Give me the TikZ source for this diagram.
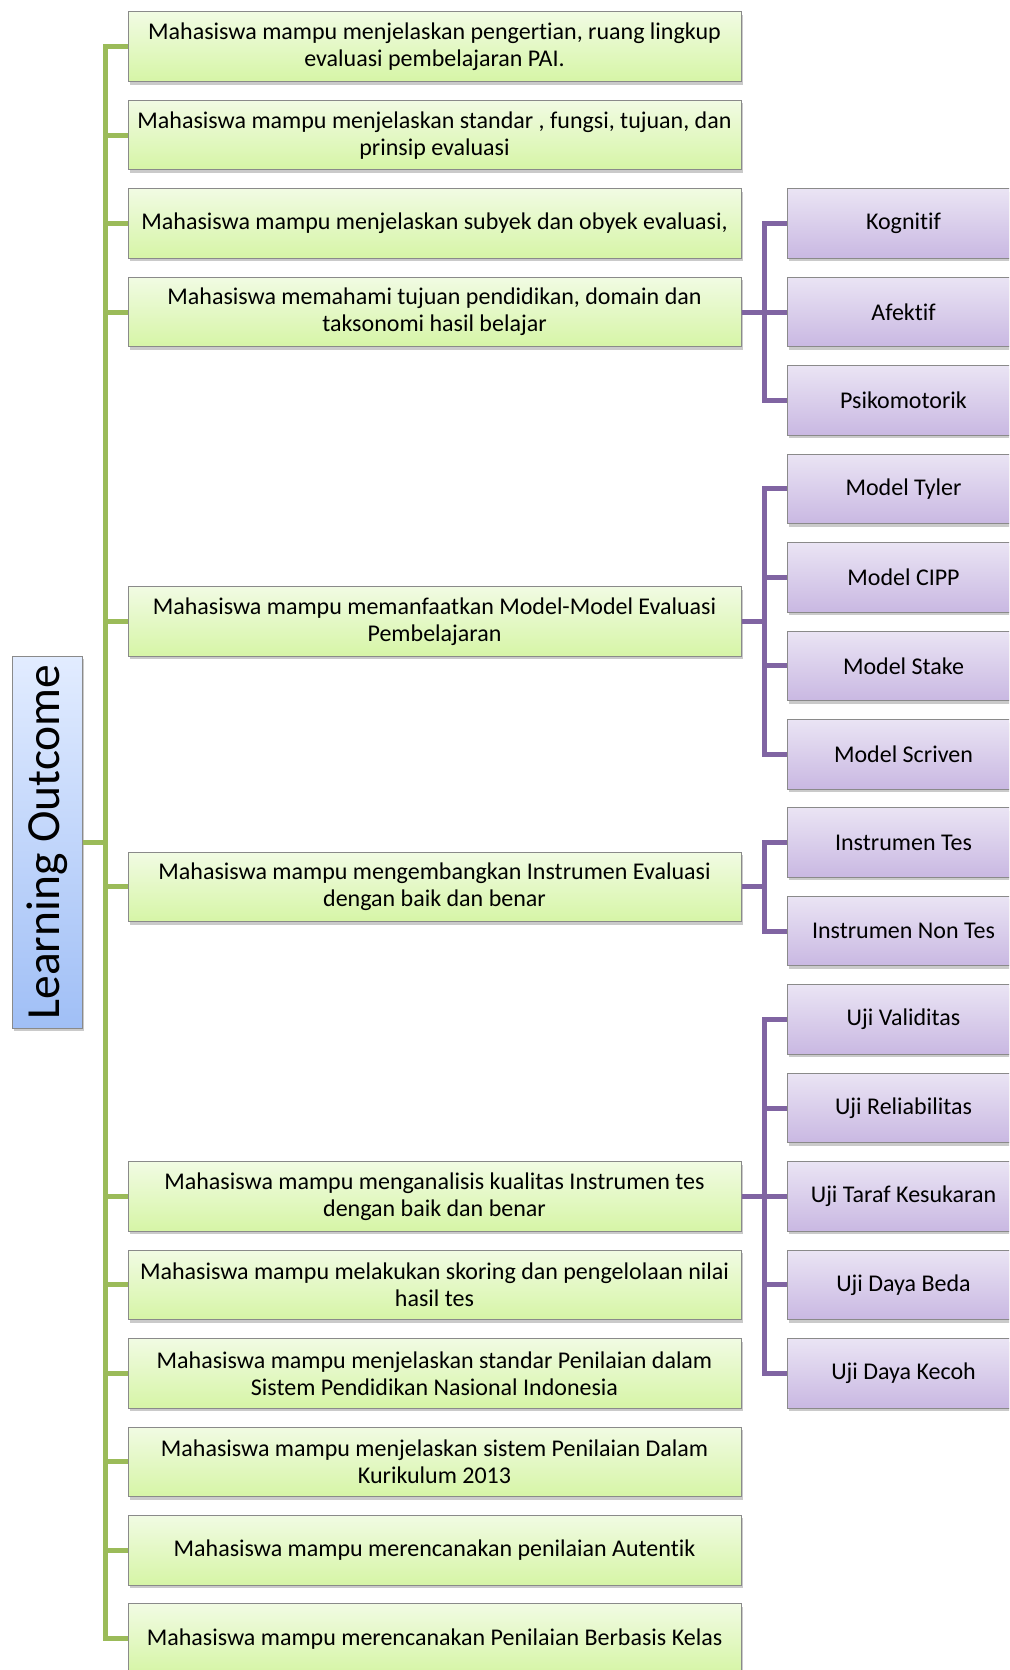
\documentclass[tikz,border=0pt]{standalone}
\usepackage{fontspec}
\setmainfont{Carlito}[Ligatures={NoCommon}]
\usetikzlibrary{shadows}
\definecolor{gLine}{HTML}{9BBB59}
\definecolor{pLine}{HTML}{8064A2}
\definecolor{gTop}{HTML}{F1FBE3}
\definecolor{gBot}{HTML}{D6F5A6}
\definecolor{pTop}{HTML}{EAE4F4}
\definecolor{pBot}{HTML}{C9B8E2}
\definecolor{bTop}{HTML}{E2ECFF}
\definecolor{bBot}{HTML}{A0BFF6}
\definecolor{boxBorder}{HTML}{8A8A8A}
\tikzset{
  basebox/.style={draw=boxBorder, line width=1pt, anchor=center,
    drop shadow={shadow xshift=2pt, shadow yshift=-3pt, opacity=0.35, fill=black!60},
    font=\fontsize{24}{27}\selectfont, align=center, inner sep=0pt},
  greenbox/.style={basebox, top color=gTop, bottom color=gBot,
    minimum width=613pt, minimum height=69.5pt},
  purplebox/.style={basebox, top color=pTop, bottom color=pBot,
    minimum width=233pt, minimum height=69.5pt},
  bluebox/.style={basebox, top color=bTop, bottom color=bBot,
    minimum width=70pt, minimum height=372pt},
  gline/.style={draw=gLine, line width=5pt, line join=miter},
  pline/.style={draw=pLine, line width=5pt, line join=miter},
}
\newcommand{\rowy}[1]{46.75+88.44*#1}
\begin{document}
\begin{tikzpicture}[x=1pt,y=-1pt]
\useasboundingbox (0,0) rectangle (1009,1670);
\clip (0,0) rectangle (1009,1670);
% coordinates of trunks
\coordinate (gtrunk) at (105,0);
\coordinate (ptrunk) at (764,0);
% root
\node[bluebox] (lo) at (47,842) {};
\node[rotate=90, font=\fontsize{47.5}{52}\selectfont, inner sep=0pt] (lotext) at (lo.center) {Learning Outcome};
% green boxes
\node[greenbox] (g1) at (434.5,{\rowy{0}}) {Mahasiswa mampu menjelaskan pengertian, ruang lingkup\\evaluasi pembelajaran PAI.};
\node[greenbox] (g2) at (434.5,{\rowy{1}}) {Mahasiswa mampu menjelaskan standar , fungsi, tujuan, dan\\prinsip evaluasi};
\node[greenbox] (g3) at (434.5,{\rowy{2}}) {Mahasiswa mampu menjelaskan subyek dan obyek evaluasi,};
\node[greenbox] (g4) at (434.5,{\rowy{3}}) {Mahasiswa memahami tujuan pendidikan, domain dan\\taksonomi hasil belajar};
\node[greenbox] (g5) at (434.5,{\rowy{6.5}}) {Mahasiswa mampu memanfaatkan Model-Model Evaluasi\\Pembelajaran};
\node[greenbox] (g6) at (434.5,{\rowy{9.5}}) {Mahasiswa mampu mengembangkan Instrumen Evaluasi\\dengan baik dan benar};
\node[greenbox] (g7) at (434.5,{\rowy{13}}) {Mahasiswa mampu menganalisis kualitas Instrumen tes\\dengan baik dan benar};
\node[greenbox] (g8) at (434.5,{\rowy{14}}) {Mahasiswa mampu melakukan skoring dan pengelolaan nilai\\hasil tes};
\node[greenbox] (g9) at (434.5,{\rowy{15}}) {Mahasiswa mampu menjelaskan standar Penilaian dalam\\Sistem Pendidikan Nasional Indonesia};
\node[greenbox] (g10) at (434.5,{\rowy{16}}) {Mahasiswa mampu menjelaskan sistem Penilaian Dalam\\Kurikulum 2013};
\node[greenbox] (g11) at (434.5,{\rowy{17}}) {Mahasiswa mampu merencanakan penilaian Autentik};
\node[greenbox] (g12) at (434.5,{\rowy{18}}) {Mahasiswa mampu merencanakan Penilaian Berbasis Kelas};
% purple boxes
\node[purplebox] (p1) at (903.5,{\rowy{2}}) {Kognitif};
\node[purplebox] (p2) at (903.5,{\rowy{3}}) {Afektif};
\node[purplebox] (p3) at (903.5,{\rowy{4}}) {Psikomotorik};
\node[purplebox] (p4) at (903.5,{\rowy{5}}) {Model Tyler};
\node[purplebox] (p5) at (903.5,{\rowy{6}}) {Model CIPP};
\node[purplebox] (p6) at (903.5,{\rowy{7}}) {Model Stake};
\node[purplebox] (p7) at (903.5,{\rowy{8}}) {Model Scriven};
\node[purplebox] (p8) at (903.5,{\rowy{9}}) {Instrumen Tes};
\node[purplebox] (p9) at (903.5,{\rowy{10}}) {Instrumen Non Tes};
\node[purplebox] (p10) at (903.5,{\rowy{11}}) {Uji Validitas};
\node[purplebox] (p11) at (903.5,{\rowy{12}}) {Uji Reliabilitas};
\node[purplebox] (p12) at (903.5,{\rowy{13}}) {Uji Taraf Kesukaran};
\node[purplebox] (p13) at (903.5,{\rowy{14}}) {Uji Daya Beda};
\node[purplebox] (p14) at (903.5,{\rowy{15}}) {Uji Daya Kecoh};
% green connectors
\draw[gline] (g1.west) -- (g1.west -| gtrunk) -- (g12.west -| gtrunk) -- (g12.west);
\draw[gline] (lo.east) -- (lo.east -| gtrunk);
\foreach \i in {2,...,11} {\draw[gline] (g\i.west) -- (g\i.west -| gtrunk);}
% purple connectors
\draw[pline] (p1.west) -- (p1.west -| ptrunk) -- (p3.west -| ptrunk) -- (p3.west);
\draw[pline] (g4.east) -- (g4.east -| ptrunk) -- (p2.west);
\draw[pline] (p4.west) -- (p4.west -| ptrunk) -- (p7.west -| ptrunk) -- (p7.west);
\draw[pline] (g5.east) -- (g5.east -| ptrunk);
\draw[pline] (p5.west) -- (p5.west -| ptrunk);
\draw[pline] (p6.west) -- (p6.west -| ptrunk);
\draw[pline] (p8.west) -- (p8.west -| ptrunk) -- (p9.west -| ptrunk) -- (p9.west);
\draw[pline] (g6.east) -- (g6.east -| ptrunk);
\draw[pline] (p10.west) -- (p10.west -| ptrunk) -- (p14.west -| ptrunk) -- (p14.west);
\draw[pline] (g7.east) -- (g7.east -| ptrunk) -- (p12.west);
\draw[pline] (p11.west) -- (p11.west -| ptrunk);
\draw[pline] (p13.west) -- (p13.west -| ptrunk);
\end{tikzpicture}
\end{document}
